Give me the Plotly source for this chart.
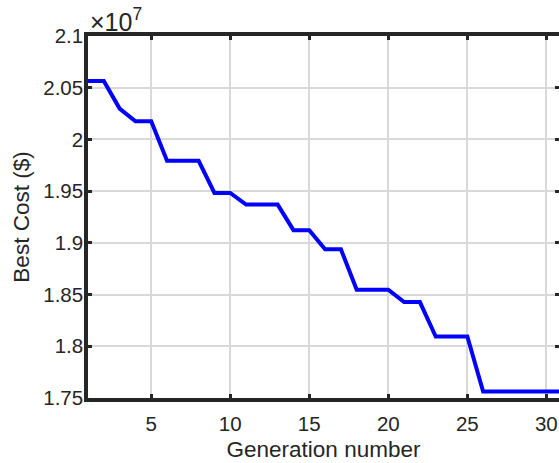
import plotly.graph_objects as go

# Data
generations = list(range(1, 32))
best_cost = [
    2.0566e7, 2.0566e7, 2.0298e7, 2.0175e7, 2.0175e7,
    1.9793e7, 1.9793e7, 1.9793e7, 1.9482e7, 1.9482e7,
    1.9370e7, 1.9370e7, 1.9370e7, 1.9123e7, 1.9123e7,
    1.8939e7, 1.8939e7, 1.8547e7, 1.8547e7, 1.8547e7,
    1.8427e7, 1.8427e7, 1.8094e7, 1.8094e7, 1.8094e7,
    1.7563e7, 1.7563e7, 1.7563e7, 1.7563e7, 1.7563e7, 1.7563e7,
]
scale = 1e7
x_ticks = [5, 10, 15, 20, 25, 30]
y_ticks = [1.75, 1.8, 1.85, 1.9, 1.95, 2.0, 2.05, 2.1]
y_tick_labels = ["1.75", "1.8", "1.85", "1.9", "1.95", "2", "2.05", "2.1"]

AX = "#262626"
GRID = "#d9d9d9"
FONT = "Liberation Sans, Arial, sans-serif"
TICK_SIZE = 20.5
TITLE_SIZE = 22.5

fig = go.Figure()
fig.add_trace(go.Scatter(
    x=generations,
    y=[v / scale for v in best_cost],
    mode="lines",
    line=dict(color="#0000ff", width=4),
    showlegend=False,
))
# invisible trace to activate right-side tick axis
fig.add_trace(go.Scatter(x=[generations[0]], y=[best_cost[0] / scale], yaxis="y2",
                         mode="markers", marker=dict(opacity=0), showlegend=False,
                         hoverinfo="skip"))

fig.update_layout(
    width=559, height=463,
    margin=dict(l=88, r=0, t=36, b=65),
    paper_bgcolor="white", plot_bgcolor="white",
    font=dict(family=FONT, color=AX, size=TICK_SIZE),
    xaxis=dict(
        range=[1, 30.8],
        tickvals=x_ticks,
        ticks="inside", ticklen=4, tickwidth=2.5, tickcolor=AX,
        showline=True, linewidth=3.5, linecolor=AX, mirror="ticks",
        showgrid=True, gridcolor=GRID, gridwidth=2,
        zeroline=False,
        tickfont=dict(size=TICK_SIZE, color=AX),
        ticklabelstandoff=5,
        title=dict(text="Generation number", font=dict(size=TITLE_SIZE, color=AX), standoff=8),
    ),
    yaxis=dict(
        range=[1.75, 2.1],
        tickvals=y_ticks, ticktext=y_tick_labels,
        ticks="inside", ticklen=4, tickwidth=2.5, tickcolor=AX,
        showline=True, linewidth=3.5, linecolor=AX, mirror=False,
        showgrid=True, gridcolor=GRID, gridwidth=2,
        zeroline=False,
        tickfont=dict(size=TICK_SIZE, color=AX),
        ticklabelstandoff=-3,
        title=dict(text="Best Cost ($)", font=dict(size=TITLE_SIZE, color=AX), standoff=8),
    ),
    yaxis2=dict(
        overlaying="y", side="right",
        range=[1.75, 2.1],
        tickvals=y_ticks,
        ticks="inside", ticklen=4, tickwidth=2.5, tickcolor=AX,
        showline=False, showgrid=False, zeroline=False,
        showticklabels=False,
    ),
    annotations=[dict(
        text="×10<sup>7</sup>", xref="paper", yref="paper",
        x=0, y=1, xanchor="left", yanchor="bottom", xshift=0, yshift=-2,
        showarrow=False, font=dict(size=25, color=AX),
    )],
)

fig.write_html("out.html")
